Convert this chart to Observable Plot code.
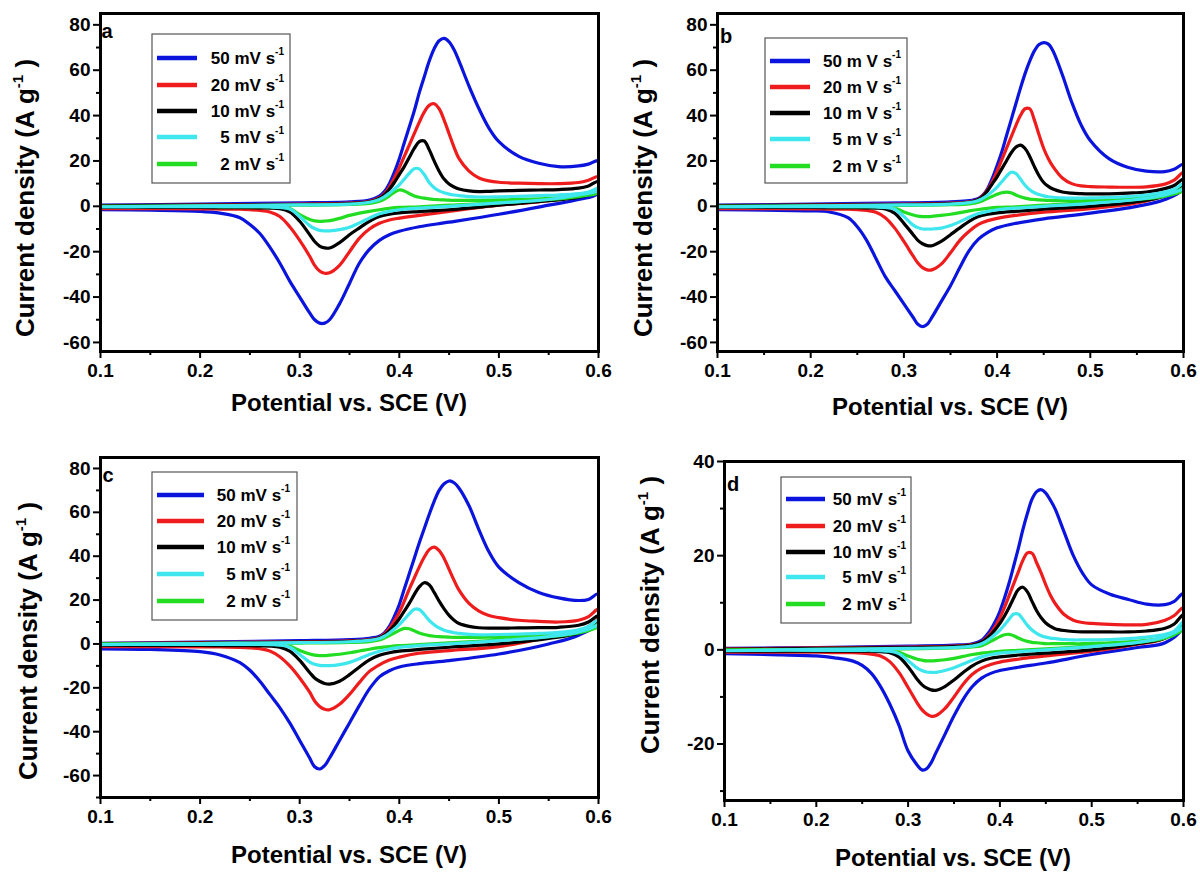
<!DOCTYPE html>
<html><head><meta charset="utf-8">
<script src="https://cdn.jsdelivr.net/npm/d3@7"></script>
<script src="https://cdn.jsdelivr.net/npm/@observablehq/plot@0.6"></script>
<style>
html,body{margin:0;padding:0;background:#fff;}
#wrap{position:relative;width:1200px;height:872px;overflow:hidden;font-family:"Liberation Sans",Arial,sans-serif;}
.panel{position:absolute;}
</style></head>
<body><div id="wrap"></div>
<script>
// ---- data ----
const upX = [0.10,0.20,0.30,0.35,0.37,0.38,0.385,0.39,0.395,0.40,0.405,0.41,0.415,0.42,0.425,0.43,0.435,0.44,0.445,0.45,0.455,0.46,0.47,0.48,0.49,0.50,0.52,0.54,0.56,0.58,0.59,0.60];
const downX = [0.60,0.58,0.55,0.50,0.45,0.42,0.40,0.39,0.38,0.37,0.36,0.35,0.34,0.33,0.325,0.32,0.315,0.31,0.30,0.29,0.28,0.27,0.26,0.25,0.24,0.22,0.20,0.15,0.10];
const rates = ["50","20","10","5","2"];
const legendLabels = ["50 mV s","20 mV s","10 mV s","5 mV s","2 mV s"];
const legendLabelsB = ["50 m V s","20 m V s","10 m V s","5 m V s","2 m V s"];
const xMajor = [0.1,0.2,0.3,0.4,0.5,0.6];
const xMinor = [0.15,0.25,0.35,0.45,0.55];
const yMajor80 = [-60,-40,-20,0,20,40,60,80];
const yMinor80 = [-50,-30,-10,10,30,50,70];
const yMinorC = [-70,-50,-30,-10,10,30,50,70];
const yMajorD = [-20,0,20,40];
const yMinorD = [-30,-10,10,30];

// rows: 50, 20, 10, 5, 2 mV/s
const aUp = [
 [0.5,1.0,1.5,2.0,2.8,4.5,6.5,10,15,21,28,35,42,50,57,64,69.5,73,74,72.5,69,64,53,43,34.5,28.5,22,19,17.5,17.8,18.6,20],
 [0.3,0.6,1.0,1.4,2.2,3.8,5.5,8.5,12.5,17,22,27,32,37,41.5,44.5,45.2,43,38,32,26,21,15.5,12.5,11.2,10.6,10.2,10,10,10.5,11.5,13],
 [0.2,0.5,0.8,1.2,2.0,3.5,5,7.5,10.5,14,17.5,21.5,25.5,28.5,28.8,25,20,15.5,12,9.8,8.5,7.6,6.8,6.5,6.6,6.8,7.0,7.2,7.4,8.0,9.0,11],
 [-0.2,0.2,0.6,1.0,1.8,3.0,4.2,5.8,7.6,9.5,12,14.5,16.6,16.5,14,10.5,8.2,6.8,6.0,5.4,5.0,4.7,4.3,4.1,4.1,4.2,4.4,4.7,5.0,5.6,6.3,8],
 [0.0,0.2,0.5,0.8,1.3,2.2,3.2,4.6,6.2,7.2,6.8,5.6,4.6,4.0,3.6,3.3,3.0,2.9,2.8,2.7,2.6,2.6,2.6,2.6,2.7,2.8,3.0,3.3,3.7,4.3,5.0,6.5]
];
const aDown = [
 [6,3,0.5,-3.5,-7,-9,-11,-12.5,-15,-19,-25,-34,-43,-50,-51.5,-51.5,-50,-47,-40,-33,-25,-18,-12,-8,-5,-3,-2.2,-1.7,-1.5],
 [8,5,2.5,0.5,-2.2,-4,-5.2,-6,-7.5,-10,-14,-20,-26,-29.3,-29.5,-28.5,-26,-22,-15,-9,-4.5,-2.5,-1.8,-1.5,-1.3,-1.2,-1.1,-1.0,-1.0],
 [7,4,2.5,0.5,-1.5,-2.3,-2.9,-3.5,-4.5,-6.6,-9.5,-12.5,-16,-18.4,-18.3,-17.5,-15.5,-12.5,-6.6,-2.5,-1.0,-0.8,-0.7,-0.6,-0.6,-0.6,-0.5,-0.5,-0.5],
 [7,5,3,1.5,0,-0.8,-1.5,-2.2,-3.3,-5.2,-7.3,-9.2,-10.3,-10.8,-10.8,-10.6,-9.8,-8.5,-4.5,-1.2,-0.5,-0.3,-0.2,-0.2,-0.2,-0.2,-0.2,-0.2,-0.3],
 [6,4.3,3,1.5,0.5,-0.2,-0.5,-0.9,-1.5,-2.2,-3.0,-4.0,-5.3,-6.3,-6.5,-6.6,-6.4,-5.8,-3.7,-1.0,-0.3,-0.2,-0.1,-0.1,-0.1,-0.1,0,0,0]
];
const bUp = [
 [0.5,1.0,1.5,2.0,2.5,3.5,5,8,12.5,18,24,31,38,45,52,58.5,64,68.5,71.3,72.2,71.5,68.5,58,46,36,29,21,17.2,15.5,15.3,16.3,18.5],
 [0.3,0.6,1.0,1.4,2.0,3.2,4.8,7.5,11,15.5,20.5,25.5,30.5,35.5,40,43,43,38,31.5,25.5,21,17.5,12.5,10,9,8.7,8.5,8.4,8.6,9.8,11.5,15],
 [0.2,0.5,0.8,1.2,1.8,3.0,4.5,7,10,13,16.5,20,23.5,26,27,25.5,22,17.5,13.5,10.5,8.8,7.6,6.3,5.8,5.6,5.5,5.5,5.8,6.3,7.8,9.2,12],
 [-0.2,0.2,0.6,1.0,1.6,2.6,3.6,5,6.6,8.5,10.8,13.2,15,14.5,12,9.3,7.3,6,5.2,4.6,4.2,4.0,3.7,3.6,3.6,3.7,3.9,4.3,5.0,6.3,7.5,10],
 [0,0.2,0.4,0.7,1.1,1.8,2.6,3.5,4.4,5.3,6.0,6.3,6.0,5.0,4.2,3.6,3.2,3.0,2.8,2.7,2.6,2.5,2.5,2.5,2.6,2.7,3.0,3.4,4.0,5.0,6.0,8]
];
const bDown = [
 [8,3,0,-3,-5.5,-7.5,-9.5,-11.5,-14.5,-19.5,-27,-35,-42,-49,-52,-53,-52,-49,-43,-37,-31,-23,-15,-9,-5,-2.5,-2,-1.7,-1.5],
 [10,5,1.5,-1,-2.6,-4,-5.3,-6.3,-8,-11,-15,-20.5,-25.5,-28,-28,-27,-25,-22,-15.5,-9.5,-5,-2.6,-1.8,-1.5,-1.3,-1.2,-1.1,-1.0,-1.0],
 [9,4.5,2,0,-1.3,-2.2,-2.9,-3.5,-4.5,-6.6,-9.5,-12.5,-15.5,-17.4,-17.3,-16.5,-15,-12.5,-7.5,-3,-1.2,-0.8,-0.7,-0.6,-0.6,-0.6,-0.5,-0.5,-0.5],
 [8,5,3,1.3,0,-0.8,-1.5,-2.2,-3.2,-4.8,-6.8,-8.5,-9.6,-10,-10,-10,-9.4,-8.3,-4.5,-1.3,-0.5,-0.3,-0.2,-0.2,-0.2,-0.2,-0.2,-0.2,-0.3],
 [7,4.5,3,1.5,0.5,-0.2,-0.5,-0.9,-1.4,-2.0,-2.8,-3.5,-4.0,-4.4,-4.5,-4.5,-4.3,-3.8,-2.5,-0.8,-0.3,-0.2,-0.1,-0.1,-0.1,-0.1,0,0,0]
];
const cUp = [
 [0.3,0.8,1.5,2.0,2.6,3.5,5,8,12.5,18,25,32,39,46,52.5,59,65,70,73,74.3,73.5,71,63,52,42,35,28,23.5,21,19.8,20.3,22.8],
 [0.2,0.6,1.0,1.4,2.0,3.0,4.5,7,10.5,14.5,19.5,25,30,35,39.5,43,44.1,42.5,39,34,29,24.5,18.5,15,13,12,10.8,10.3,10,10.8,12.5,16],
 [0.1,0.4,0.8,1.2,1.8,2.8,4,6,8.5,11.5,15,18.5,22.5,26,27.9,27,23.5,19.5,16,13,10.8,9.3,8.0,7.4,7.2,7.2,7.3,7.4,7.6,8.5,10,13],
 [-0.3,0.2,0.6,1.0,1.6,2.5,3.5,5,6.8,8.8,11.2,13.7,15.8,15.7,13.5,10.8,8.8,7.3,6.3,5.6,5.1,4.8,4.4,4.2,4.2,4.3,4.5,4.8,5.3,6.5,8,11],
 [0,0.2,0.4,0.7,1.1,1.8,2.7,3.8,5.0,6.2,7.1,6.9,6.0,5.0,4.3,3.8,3.5,3.3,3.2,3.1,3.0,3.0,3.0,3.0,3.1,3.2,3.4,3.7,4.2,5.2,6.5,9]
];
const cDown = [
 [10,4,0,-4.6,-7.6,-9,-10.5,-12.2,-15,-20.5,-28,-36,-44,-52,-55.5,-57,-56,-52,-44,-36,-29,-23,-17,-12,-8.5,-5,-3.5,-2.5,-2.2],
 [12,5.5,3,-1.2,-3,-4.2,-6,-7.3,-9.5,-12.5,-17.5,-23,-27.5,-30,-29.8,-28.5,-26,-22,-15.5,-10,-5.8,-3.2,-2.2,-1.8,-1.6,-1.4,-1.3,-1.2,-1.2],
 [10,5,2.5,0,-1.5,-2.5,-3.3,-4,-5.2,-7.3,-10.5,-14,-17,-18.3,-18,-17,-15.5,-13,-7.5,-3.3,-1.5,-1.0,-0.9,-0.8,-0.8,-0.8,-0.7,-0.7,-0.7],
 [9,5.5,3.3,1.5,0,-0.8,-1.6,-2.3,-3.3,-4.8,-6.7,-8.4,-9.4,-9.9,-9.9,-9.8,-9.3,-8.3,-4.8,-1.5,-0.5,-0.3,-0.2,-0.2,-0.2,-0.2,-0.2,-0.2,-0.3],
 [8,5,3.3,1.8,0.5,-0.3,-0.8,-1.2,-1.7,-2.4,-3.2,-4.0,-4.7,-5.1,-5.3,-5.3,-5.1,-4.6,-3.0,-1.0,-0.3,-0.2,-0.1,-0.1,-0.1,-0.1,0,0,0]
];
const dUp = [
 [0.3,0.5,0.8,1.0,1.3,2.0,3.0,4.3,6.0,8.2,11,14.2,17.8,21.5,25.5,29,32,33.6,34,33.3,31.8,30,25,20,16.3,13.8,11.8,10.7,9.7,9.6,10.3,12],
 [0.2,0.4,0.6,0.8,1.1,1.7,2.5,3.6,5.0,6.8,9.0,11.5,14,16.5,19,20.6,20.5,18.5,16.3,13.8,11.6,9.9,7.5,6.3,5.8,5.6,5.4,5.3,5.4,6.3,7.3,9],
 [0.1,0.3,0.5,0.7,1.0,1.6,2.3,3.2,4.3,5.6,7.2,9.0,11,12.8,13.3,12.3,10.3,8.3,6.8,5.7,5.0,4.5,4.1,3.9,3.8,3.8,3.8,3.8,4.0,4.6,5.5,7.5],
 [-0.2,0.1,0.3,0.5,0.8,1.3,1.8,2.5,3.3,4.2,5.3,6.5,7.6,7.6,6.5,5.2,4.2,3.5,3.0,2.7,2.5,2.4,2.2,2.1,2.1,2.1,2.2,2.4,2.7,3.3,4.0,6],
 [0,0.1,0.2,0.4,0.6,0.9,1.3,1.8,2.3,2.8,3.2,3.3,3.0,2.5,2.1,1.8,1.6,1.5,1.4,1.3,1.3,1.3,1.3,1.3,1.3,1.4,1.5,1.7,2.0,2.6,3.2,5]
];
const dDown = [
 [5,1.5,0.5,-1,-2.8,-3.7,-4.4,-5.0,-6.0,-7.8,-10.5,-14,-18,-22,-24,-25.3,-25.5,-24.5,-21.5,-16,-11.5,-7.8,-5,-3.3,-2.4,-1.7,-1.3,-1.0,-0.8],
 [6,2.5,1.2,-0.3,-1.3,-2,-2.6,-3.1,-3.9,-5.2,-7.3,-10,-12.5,-14,-14.1,-13.6,-12.7,-11.3,-8,-4.8,-2.5,-1.3,-0.9,-0.7,-0.6,-0.6,-0.5,-0.5,-0.5],
 [5.5,2.5,1.3,0,-0.7,-1.1,-1.5,-1.8,-2.4,-3.4,-4.8,-6.4,-7.8,-8.6,-8.5,-8.1,-7.4,-6.3,-3.6,-1.5,-0.6,-0.4,-0.3,-0.3,-0.3,-0.3,-0.3,-0.3,-0.3],
 [5,2.8,1.6,0.7,0,-0.4,-0.7,-1.0,-1.5,-2.2,-3.0,-3.8,-4.4,-4.8,-4.8,-4.7,-4.4,-3.9,-2.3,-0.8,-0.3,-0.2,-0.1,-0.1,-0.1,-0.1,-0.1,-0.1,-0.2],
 [4.5,2.5,1.6,0.8,0.2,-0.1,-0.3,-0.5,-0.7,-1.0,-1.4,-1.8,-2.1,-2.3,-2.35,-2.35,-2.2,-2.0,-1.3,-0.5,-0.2,-0.1,0,0,0,0,0,0,0]
];

// ---- styling / layout ----
const colors = ["#0a14dc","#ee1c1c","#000000","#3ee6ee","#22dd22"];
const drawOrder = [0,1,2,4,3];
const FONT = "'Liberation Sans', Arial, Helvetica, sans-serif";
const TICK_FONT = 19;

const panels = [
 {letter:"a", left:0, top:0, width:600, height:420, mt:13, mr:2, mb:69, ml:100,
  yDomain:[-64,85], yMajor:yMajor80, yMinor:yMinor80, up:aUp, down:aDown, labels:legendLabels,
  leg:{x:152,y:34,w:138,h:149,x1:157,x2:197,tx:284,rows:[58,85,111,137,164]},
  letterPos:[107,38], yLab:[34,198], xLab:[349,411]},
 {letter:"b", left:600, top:0, width:600, height:420, mt:13, mr:17, mb:69, ml:117,
  yDomain:[-64,85], yMajor:yMajor80, yMinor:yMinor80, up:bUp, down:bDown, labels:legendLabelsB,
  leg:{x:165,y:38,w:142,h:145,x1:170,x2:210,tx:301,rows:[61,87,113,139,166]},
  letterPos:[126,43], yLab:[52,198], xLab:[350,415]},
 {letter:"c", left:0, top:430, width:600, height:442, mt:27, mr:2, mb:75, ml:100,
  yDomain:[-70,85], yMajor:yMajor80, yMinor:yMinorC, up:cUp, down:cDown, labels:legendLabels,
  leg:{x:152,y:42,w:145,h:148,x1:157,x2:204,tx:290,rows:[65,91,117,144,171]},
  letterPos:[108,52], yLab:[37,211], xLab:[349,433]},
 {letter:"d", left:600, top:430, width:600, height:442, mt:31, mr:17, mb:72, ml:124,
  yDomain:[-32,40], yMajor:yMajorD, yMinor:yMinorD, up:dUp, down:dDown, labels:legendLabels,
  leg:{x:181,y:47,w:130,h:146,x1:186,x2:225,tx:306,rows:[69,96,122,147,174]},
  letterPos:[133,61], yLab:[59,185], xLab:[353,436]}
];

function seriesRows(up, down, i) {
  const rows = [];
  upX.forEach((x, j) => rows.push({x, y: up[i][j]}));
  downX.forEach((x, j) => rows.push({x, y: down[i][j]}));
  return rows;
}

const wrap = document.getElementById("wrap");

panels.forEach(p => {
  const lines = drawOrder.map(i => Plot.line(seriesRows(p.up, p.down, i), {
    x: "x", y: "y", stroke: colors[i], strokeWidth: 3.2, curve: "catmull-rom", clip: true
  }));
  const svg = Plot.plot({
    width: p.width, height: p.height,
    marginTop: p.mt, marginRight: p.mr, marginBottom: p.mb, marginLeft: p.ml,
    x: {domain: [0.1, 0.6]},
    y: {domain: p.yDomain},
    style: {fontFamily: FONT, fontSize: TICK_FONT + "px", fontWeight: "bold", color: "#000", background: "transparent", overflow: "visible"},
    marks: [
      ...lines,
      Plot.axisX({ticks: xMajor, tickSize: 7, tickPadding: 5, tickFormat: d3.format(".1f"), strokeWidth: 2, label: null}),
      Plot.axisX({ticks: xMinor, tickSize: 4, tickFormat: () => "", strokeWidth: 2, label: null}),
      Plot.axisY({ticks: p.yMajor, tickSize: 7, tickPadding: 3, tickFormat: d => String(d), strokeWidth: 2, label: null}),
      Plot.axisY({ticks: p.yMinor, tickSize: 4, tickFormat: () => "", strokeWidth: 2, label: null}),
      Plot.frame({stroke: "#000", strokeWidth: 3})
    ]
  });
  const div = document.createElement("div");
  div.className = "panel";
  div.style.left = p.left + "px";
  div.style.top = p.top + "px";
  div.appendChild(svg);
  wrap.appendChild(div);

  const s = d3.select(svg);
  // enlarge tick labels
  s.selectAll("g[aria-label$='tick label']")
    .style("font-size", TICK_FONT + "px").style("font-weight", "bold")
    .attr("font-size", TICK_FONT).attr("font-weight", "bold");
  s.selectAll("g[aria-label$='tick label'] text")
    .style("font-size", TICK_FONT + "px").style("font-weight", "bold");
  // y label
  const yl = s.append("text")
    .attr("transform", `translate(${p.yLab[0]},${p.yLab[1]}) rotate(-90)`)
    .attr("text-anchor", "middle").attr("font-family", FONT)
    .attr("font-size", 26).attr("font-weight", "bold").attr("fill", "#000");
  yl.append("tspan").text("Current density (A g");
  yl.append("tspan").attr("dy", -11).attr("font-size", 15).text("-1");
  yl.append("tspan").attr("dy", 11).text(" )");
  // x label
  s.append("text").attr("x", p.xLab[0]).attr("y", p.xLab[1])
    .attr("text-anchor", "middle").attr("font-family", FONT)
    .attr("font-size", 24).attr("font-weight", "bold").attr("fill", "#000")
    .text("Potential vs. SCE (V)");
  // panel letter
  s.append("text").attr("x", p.letterPos[0]).attr("y", p.letterPos[1])
    .attr("font-family", FONT).attr("font-size", 20).attr("font-weight", "bold").attr("fill", "#000")
    .text(p.letter);
  // legend
  const L = p.leg;
  const g = s.append("g");
  g.append("rect").attr("x", L.x).attr("y", L.y).attr("width", L.w).attr("height", L.h)
    .attr("fill", "#fff").attr("stroke", "#555").attr("stroke-width", 1.2);
  p.labels.forEach((t, i) => {
    const y = L.rows[i];
    g.append("line").attr("x1", L.x1).attr("x2", L.x2).attr("y1", y).attr("y2", y)
      .attr("stroke", colors[i]).attr("stroke-width", 4.5);
    const tt = g.append("text").attr("x", L.tx).attr("y", y + 6).attr("text-anchor", "end")
      .attr("font-family", FONT).attr("font-size", 17).attr("font-weight", "bold").attr("fill", "#000");
    tt.append("tspan").text(t);
    tt.append("tspan").attr("dy", -9).attr("font-size", 10).text("-1");
  });
});
</script>
</body></html>
